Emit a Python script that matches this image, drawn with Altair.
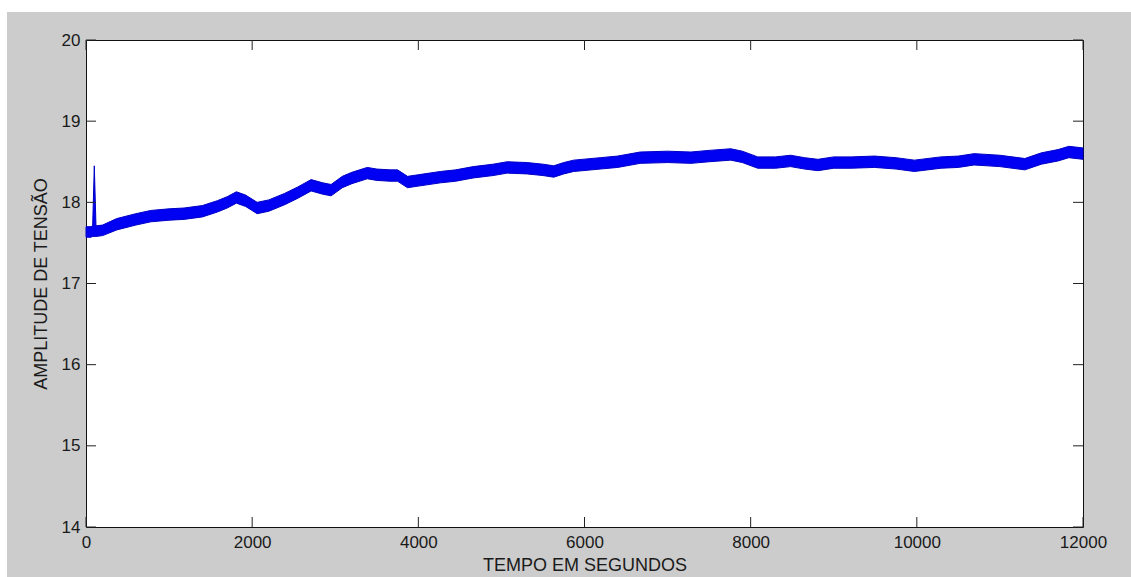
import altair as alt
import pandas as pd

# Envelope of the noisy voltage-amplitude trace
t = [0, 60, 80, 100, 120, 200, 370, 600, 780, 1000, 1180, 1400, 1580, 1700, 1810,
     1920, 2060, 2200, 2390, 2550, 2710, 2850, 2950, 3085, 3200, 3385, 3500, 3660,
     3750, 3870, 4000, 4265, 4450, 4660, 4900, 5070, 5310, 5500, 5630, 5750, 5870,
     6190, 6400, 6670, 7000, 7280, 7500, 7760, 7900, 8085, 8300, 8480, 8650, 8810,
     9000, 9210, 9490, 9750, 9970, 10290, 10500, 10690, 11000, 11300, 11500, 11700,
     11830, 12000]
lower = [17.57, 17.57, 17.58, 17.58, 17.58, 17.59, 17.66, 17.72, 17.76, 17.78, 17.79,
         17.82, 17.88, 17.93, 17.99, 17.95, 17.86, 17.89, 17.97, 18.05, 18.14, 18.10,
         18.08, 18.18, 18.23, 18.29, 18.27, 18.26, 18.26, 18.18, 18.20, 18.24, 18.26,
         18.30, 18.33, 18.36, 18.35, 18.33, 18.31, 18.35, 18.38, 18.41, 18.43, 18.48,
         18.49, 18.48, 18.50, 18.52, 18.49, 18.42, 18.42, 18.44, 18.41, 18.39, 18.42,
         18.42, 18.43, 18.41, 18.38, 18.42, 18.43, 18.46, 18.44, 18.40, 18.47, 18.51,
         18.55, 18.53]
upper = [17.70, 17.70, 17.71, 18.45, 17.71, 17.72, 17.80, 17.86, 17.90, 17.92, 17.93,
         17.96, 18.02, 18.07, 18.13, 18.09, 18.00, 18.03, 18.11, 18.19, 18.28, 18.24,
         18.22, 18.32, 18.37, 18.43, 18.41, 18.40, 18.40, 18.32, 18.34, 18.38, 18.40,
         18.44, 18.47, 18.50, 18.49, 18.47, 18.45, 18.49, 18.52, 18.55, 18.57, 18.62,
         18.63, 18.62, 18.64, 18.66, 18.63, 18.56, 18.56, 18.58, 18.55, 18.53, 18.56,
         18.56, 18.57, 18.55, 18.52, 18.56, 18.57, 18.60, 18.58, 18.54, 18.61, 18.65,
         18.69, 18.67]

x_ticks = [0, 2000, 4000, 6000, 8000, 10000, 12000]
y_ticks = [14, 15, 16, 17, 18, 19, 20]

W, H = 997, 487
FONT = "Liberation Sans"
TXT = "#1a1a1a"
XTITLE = "TEMPO EM SEGUNDOS"
YTITLE = "AMPLITUDE DE TENSÃO"

xs = alt.Scale(domain=[0, 12000], nice=False, zero=False)
ys = alt.Scale(domain=[14, 20], nice=False, zero=False)

x_axis = alt.Axis(values=x_ticks, ticks=False, tickSize=0, domain=False,
                  grid=False, labelPadding=7, titlePadding=6,
                  labelFontSize=17, titleFontSize=18, labelFont=FONT,
                  titleFont=FONT, labelColor=TXT, titleColor=TXT,
                  titleFontWeight="normal", labelFlush=False, format="d")
y_axis = alt.Axis(values=y_ticks, ticks=False, tickSize=0, domain=False,
                  grid=False, labelPadding=6, titlePadding=11,
                  labelFontSize=17, titleFontSize=18, labelFont=FONT,
                  titleFont=FONT, labelColor=TXT, titleColor=TXT,
                  titleFontWeight="normal", labelFlush=False, format="d")

band_df = pd.DataFrame({"t": t, "lo": lower, "hi": upper})
xt_df = pd.DataFrame({"xt": x_ticks})
yt_df = pd.DataFrame({"yt": y_ticks})
one = pd.DataFrame({"k": [0]})

# white page margin outside the grey figure
strip_top = alt.Chart(one).mark_rect(color="white").encode(
    x=alt.value(-86), x2=alt.value(1045), y=alt.value(-40), y2=alt.value(-28))
strip_left = alt.Chart(one).mark_rect(color="white").encode(
    x=alt.value(-86), x2=alt.value(-79), y=alt.value(-40), y2=alt.value(537))

band = alt.Chart(band_df).mark_area(
    color="#0000f2", stroke="#0000c8", strokeWidth=1, interpolate="linear"
).encode(
    x=alt.X("t:Q", scale=xs, title=XTITLE, axis=x_axis),
    y=alt.Y("lo:Q", scale=ys, title=YTITLE, axis=y_axis),
    y2="hi:Q",
)

tick_color = "#222222"
xt_bottom = alt.Chart(xt_df).mark_rule(color=tick_color, strokeWidth=1).encode(
    x=alt.X("xt:Q", scale=xs, title=XTITLE, axis=x_axis),
    y=alt.value(H), y2=alt.value(H - 10))
xt_top = alt.Chart(xt_df).mark_rule(color=tick_color, strokeWidth=1).encode(
    x=alt.X("xt:Q", scale=xs, title=XTITLE, axis=x_axis),
    y=alt.value(0), y2=alt.value(10))
yt_left = alt.Chart(yt_df).mark_rule(color=tick_color, strokeWidth=1).encode(
    y=alt.Y("yt:Q", scale=ys, title=YTITLE, axis=y_axis),
    x=alt.value(0), x2=alt.value(10))
yt_right = alt.Chart(yt_df).mark_rule(color=tick_color, strokeWidth=1).encode(
    y=alt.Y("yt:Q", scale=ys, title=YTITLE, axis=y_axis),
    x=alt.value(W), x2=alt.value(W - 10))

chart = alt.layer(
    strip_top, strip_left, band, xt_bottom, xt_top, yt_left, yt_right
).properties(
    width=W, height=H,
    autosize=alt.AutoSizeParams(type="none"),
    padding={"left": 86, "top": 40, "right": 48, "bottom": 50},
).configure(
    background="#cccccc",
).configure_view(
    fill="white", stroke="#111111", strokeWidth=1,
)

chart.save("out.html", embed_options={"renderer": "svg", "actions": False})
